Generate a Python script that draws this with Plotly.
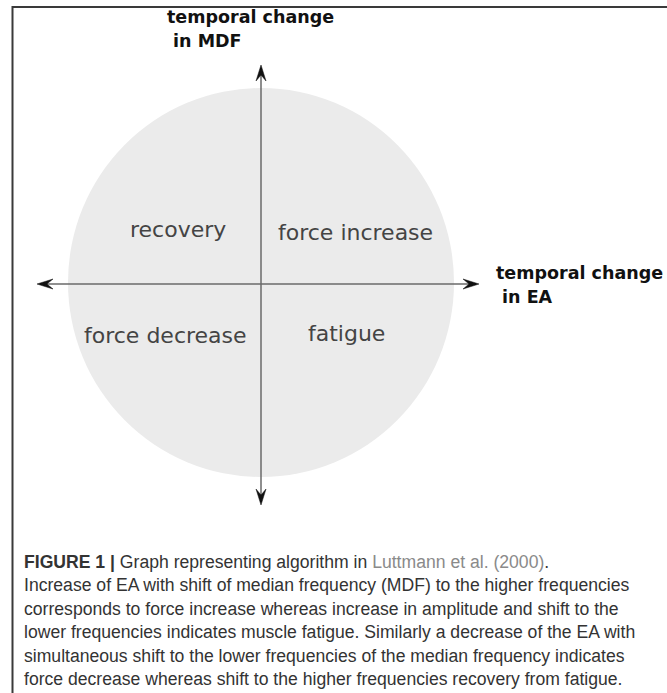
import plotly.graph_objects as go

W, H = 667, 693

# ---- data / text ----
quadrant_labels = ["recovery", "force increase", "force decrease", "fatigue"]
quadrant_x = [178, 355, 165, 346]
quadrant_y = [229, 232, 335, 333]

y_axis_label = ["temporal change", "\u00a0in MDF"]
x_axis_label = ["temporal change", "\u00a0in EA"]

caption_lines = [
    "<b>FIGURE 1 |</b> Graph representing algorithm in <span style='color:#8a8a8a'>Luttmann et al. (2000)</span>.",
    "Increase of EA with shift of median frequency (MDF) to the higher frequencies",
    "corresponds to force increase whereas increase in amplitude and shift to the",
    "lower frequencies indicates muscle fatigue. Similarly a decrease of the EA with",
    "simultaneous shift to the lower frequencies of the median frequency indicates",
    "force decrease whereas shift to the higher frequencies recovery from fatigue.",
]

# ---- geometry (pixel space) ----
circle = dict(x0=68, x1=454, y0=88, y1=477)
cx, cy = 261, 284
h_left, h_right = 37, 479
v_top, v_bottom = 65, 505
head_len, head_w = 16, 10

fig = go.Figure()
shapes = []

# frame
shapes.append(dict(type="line", x0=12, x1=W, y0=7, y1=7, line=dict(color="#3a3a3a", width=2)))
shapes.append(dict(type="line", x0=12.5, x1=12.5, y0=6, y1=H, line=dict(color="#3a3a3a", width=2)))

# circle
shapes.append(dict(type="circle", **circle, fillcolor="#ebebeb", line=dict(width=0), layer="below"))

# axis lines
shapes.append(dict(type="line", x0=h_left + 6, x1=h_right - 6, y0=cy, y1=cy, line=dict(color="#6a6a6a", width=1.5)))
shapes.append(dict(type="line", x0=cx, x1=cx, y0=v_top + 6, y1=v_bottom - 6, line=dict(color="#6a6a6a", width=1.5)))


def head(tx, ty, dx, dy):
    # barbed arrow head with tip at (tx,ty) pointing in direction (dx,dy)
    px, py = -dy, dx
    bx, by = tx - dx * head_len, ty - dy * head_len
    ix, iy = tx - dx * head_len * 0.62, ty - dy * head_len * 0.62
    p = [(tx, ty), (bx + px * head_w / 2, by + py * head_w / 2), (ix, iy),
         (bx - px * head_w / 2, by - py * head_w / 2)]
    path = "M" + " L".join(f"{a:.2f},{b:.2f}" for a, b in p) + " Z"
    return dict(type="path", path=path, fillcolor="#111111", line=dict(color="#111111", width=0.5))


shapes.append(head(cx, v_top, 0, -1))
shapes.append(head(cx, v_bottom, 0, 1))
shapes.append(head(h_left, cy, -1, 0))
shapes.append(head(h_right, cy, 1, 0))

annotations = []
for t, x, y in zip(quadrant_labels, quadrant_x, quadrant_y):
    annotations.append(dict(x=x, y=y, text=t, showarrow=False, xanchor="center", yanchor="middle",
                            font=dict(family="DejaVu Sans", size=22, color="#444444")))

bold_font = dict(family="DejaVu Sans", size=17.5, color="#111111")
for i, t in enumerate(y_axis_label):
    annotations.append(dict(x=165, y=17 + i * 24, text=f"<b>{t}</b>", showarrow=False,
                            xanchor="left", yanchor="middle", font=bold_font))
for i, t in enumerate(x_axis_label):
    annotations.append(dict(x=494, y=273 + i * 24, text=f"<b>{t}</b>", showarrow=False,
                            xanchor="left", yanchor="middle", font=bold_font))

for i, t in enumerate(caption_lines):
    annotations.append(dict(x=22, y=562 + i * 23.4, text=t, showarrow=False, xanchor="left", yanchor="middle",
                            font=dict(family="Liberation Sans", size=17.6, color="#333333")))

fig.update_layout(
    width=W, height=H, margin=dict(l=0, r=0, t=0, b=0),
    paper_bgcolor="white", plot_bgcolor="white",
    xaxis=dict(range=[0, W], visible=False, fixedrange=True),
    yaxis=dict(range=[H, 0], visible=False, fixedrange=True),
    shapes=shapes, annotations=annotations, showlegend=False,
)
fig.write_html("out.html", config={"displayModeBar": False},
               post_script="document.body.style.margin='0';document.body.style.overflow='hidden';")
